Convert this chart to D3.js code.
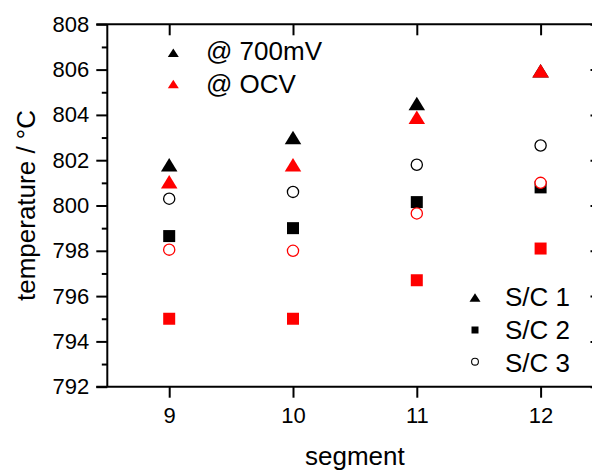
<!DOCTYPE html>
<html>
<head>
<meta charset="utf-8">
<script src="https://cdn.jsdelivr.net/npm/d3@7"></script>
<style>
  body { margin: 0; background: #fff; overflow: hidden; }
  text { font-family: "Liberation Sans", Arial, sans-serif; }
</style>
</head>
<body>
<script>

// segments on the x axis
const segments = [9, 10, 11, 12];

// temperatures, one array per series
const sc1_700mV = [801.8, 803.0, 804.5, 805.95];
const sc1_ocv   = [801.05, 801.8, 803.9, 805.95];
const sc2_700mV = [798.65, 799.0, 800.15, 800.8];
const sc2_ocv   = [795.0, 795.0, 796.7, 798.1];
const sc3_700mV = [800.3, 800.6, 801.8, 802.65];
const sc3_ocv   = [798.05, 798.0, 799.65, 801.0];

const yTicks = [792, 794, 796, 798, 800, 802, 804, 806, 808];
const yMinorTicks = [793, 795, 797, 799, 801, 803, 805, 807];

const width = 592;
const height = 472;
const marginLeft = 107.3;
const plotRight = 602.5;   // right frame sits just past the window edge
const marginTop = 24.3;
const plotBottom = 386.7;

const svg = d3.create("svg")
    .attr("width", width)
    .attr("height", height)
    .attr("viewBox", [0, 0, width, height]);

const x = d3.scaleLinear([8.5, 12.5], [marginLeft, plotRight]);
const y = d3.scaleLinear([792, 808], [plotBottom, marginTop]);

// triangle centred on its bounding box
function tri(w, h) {
    return `M0,${-h / 2}L${w / 2},${h / 2}L${-w / 2},${h / 2}Z`;
}
function square(s) {
    return `M${-s / 2},${-s / 2}h${s}v${s}h${-s}Z`;
}

function drawSeries(values, shape, color) {
    const g = svg.append("g");
    const pts = values.map((v, i) => ({ seg: segments[i], v: v }));
    if (shape === "circle") {
        g.selectAll("circle")
            .data(pts)
            .join("circle")
            .attr("cx", d => x(d.seg))
            .attr("cy", d => y(d.v))
            .attr("r", 5.6)
            .attr("fill", "#fff")
            .attr("stroke", color)
            .attr("stroke-width", 1.3);
    } else {
        g.selectAll("path")
            .data(pts)
            .join("path")
            .attr("transform", d => `translate(${x(d.seg)},${y(d.v)})`)
            .attr("d", shape === "triangle" ? tri(16.5, 13.5) : square(12))
            .attr("fill", color);
    }
}

// series: @700mV in black, @OCV in red on top
drawSeries(sc2_700mV, "square", "#000");
drawSeries(sc3_700mV, "circle", "#000");
drawSeries(sc1_700mV, "triangle", "#000");
drawSeries(sc2_ocv, "square", "#ff0000");
drawSeries(sc3_ocv, "circle", "#ff0000");
drawSeries(sc1_ocv, "triangle", "#ff0000");

// axes
const axisColor = "#000";

// bottom
svg.append("g")
    .attr("transform", `translate(0,${plotBottom})`)
    .call(d3.axisBottom(x).tickValues(segments).tickSize(11).tickPadding(10).tickFormat(d3.format("d")))
    .call(g => g.select(".domain").attr("stroke-width", 2).attr("d", `M${marginLeft - 11},0H${plotRight}`))
    .call(g => g.selectAll(".tick line").attr("stroke-width", 2))
    .call(g => g.selectAll(".tick text").attr("font-size", 22).attr("fill", axisColor));

// top (ticks inward)
svg.append("g")
    .attr("transform", `translate(0,${marginTop})`)
    .call(d3.axisBottom(x).tickValues(segments).tickSize(11).tickFormat(""))
    .call(g => g.select(".domain").attr("stroke-width", 2).attr("d", `M${marginLeft - 11},0H${plotRight}`))
    .call(g => g.selectAll(".tick line").attr("stroke-width", 2));

// left
svg.append("g")
    .attr("transform", `translate(${marginLeft},0)`)
    .call(d3.axisLeft(y).tickValues(yTicks).tickSize(11).tickPadding(7).tickFormat(d3.format("d")))
    .call(g => g.select(".domain").attr("stroke-width", 2).attr("d", `M0,${marginTop}V${plotBottom}`))
    .call(g => g.selectAll(".tick line").attr("stroke-width", 2))
    .call(g => g.selectAll(".tick text").attr("font-size", 22).attr("fill", axisColor));

svg.append("g")
    .attr("transform", `translate(${marginLeft},0)`)
    .call(d3.axisLeft(y).tickValues(yMinorTicks).tickSize(5.5).tickFormat(""))
    .call(g => g.select(".domain").remove())
    .call(g => g.selectAll(".tick line").attr("stroke-width", 2));

// right (ticks inward)
svg.append("g")
    .attr("transform", `translate(${plotRight},0)`)
    .call(d3.axisLeft(y).tickValues(yTicks).tickSize(-0).tickFormat(""))
    .call(g => g.select(".domain").attr("stroke-width", 2).attr("d", `M0,${marginTop}V${plotBottom}`))
    .call(g => g.selectAll(".tick line").attr("x2", -12).attr("stroke-width", 2));

// axis titles
svg.append("text")
    .attr("x", (marginLeft + plotRight) / 2)
    .attr("y", 465)
    .attr("text-anchor", "middle")
    .attr("font-size", 26)
    .text("segment");

svg.append("text")
    .attr("transform", `translate(35,${(marginTop + plotBottom) / 2}) rotate(-90)`)
    .attr("text-anchor", "middle")
    .attr("font-size", 26)
    .text("temperature / °C");

// legend: conditions
const condLegend = [
    { label: "@ 700mV", color: "#000", cy: 52.7, base: 60 },
    { label: "@ OCV", color: "#ff0000", cy: 84, base: 93.3 }
];
condLegend.forEach(d => {
    svg.append("path")
        .attr("transform", `translate(173.3,${d.cy})`)
        .attr("d", tri(11, 8.5))
        .attr("fill", d.color);
    svg.append("text")
        .attr("x", 206)
        .attr("y", d.base)
        .attr("font-size", 26)
        .text(d.label);
});

// legend: stacks
const stackLegend = [
    { label: "S/C 1", shape: "triangle", cy: 297.5, base: 306 },
    { label: "S/C 2", shape: "square", cy: 330, base: 338.5 },
    { label: "S/C 3", shape: "circle", cy: 361.7, base: 371.5 }
];
stackLegend.forEach(d => {
    if (d.shape === "circle") {
        svg.append("circle")
            .attr("cx", 475).attr("cy", d.cy).attr("r", 3.4)
            .attr("fill", "#fff").attr("stroke", "#000").attr("stroke-width", 1.1);
    } else {
        svg.append("path")
            .attr("transform", `translate(475,${d.cy})`)
            .attr("d", d.shape === "triangle" ? tri(11, 8.5) : square(7))
            .attr("fill", "#000");
    }
    svg.append("text")
        .attr("x", 505)
        .attr("y", d.base)
        .attr("font-size", 26)
        .text(d.label);
});

document.body.appendChild(svg.node());
</script>
</body>
</html>
